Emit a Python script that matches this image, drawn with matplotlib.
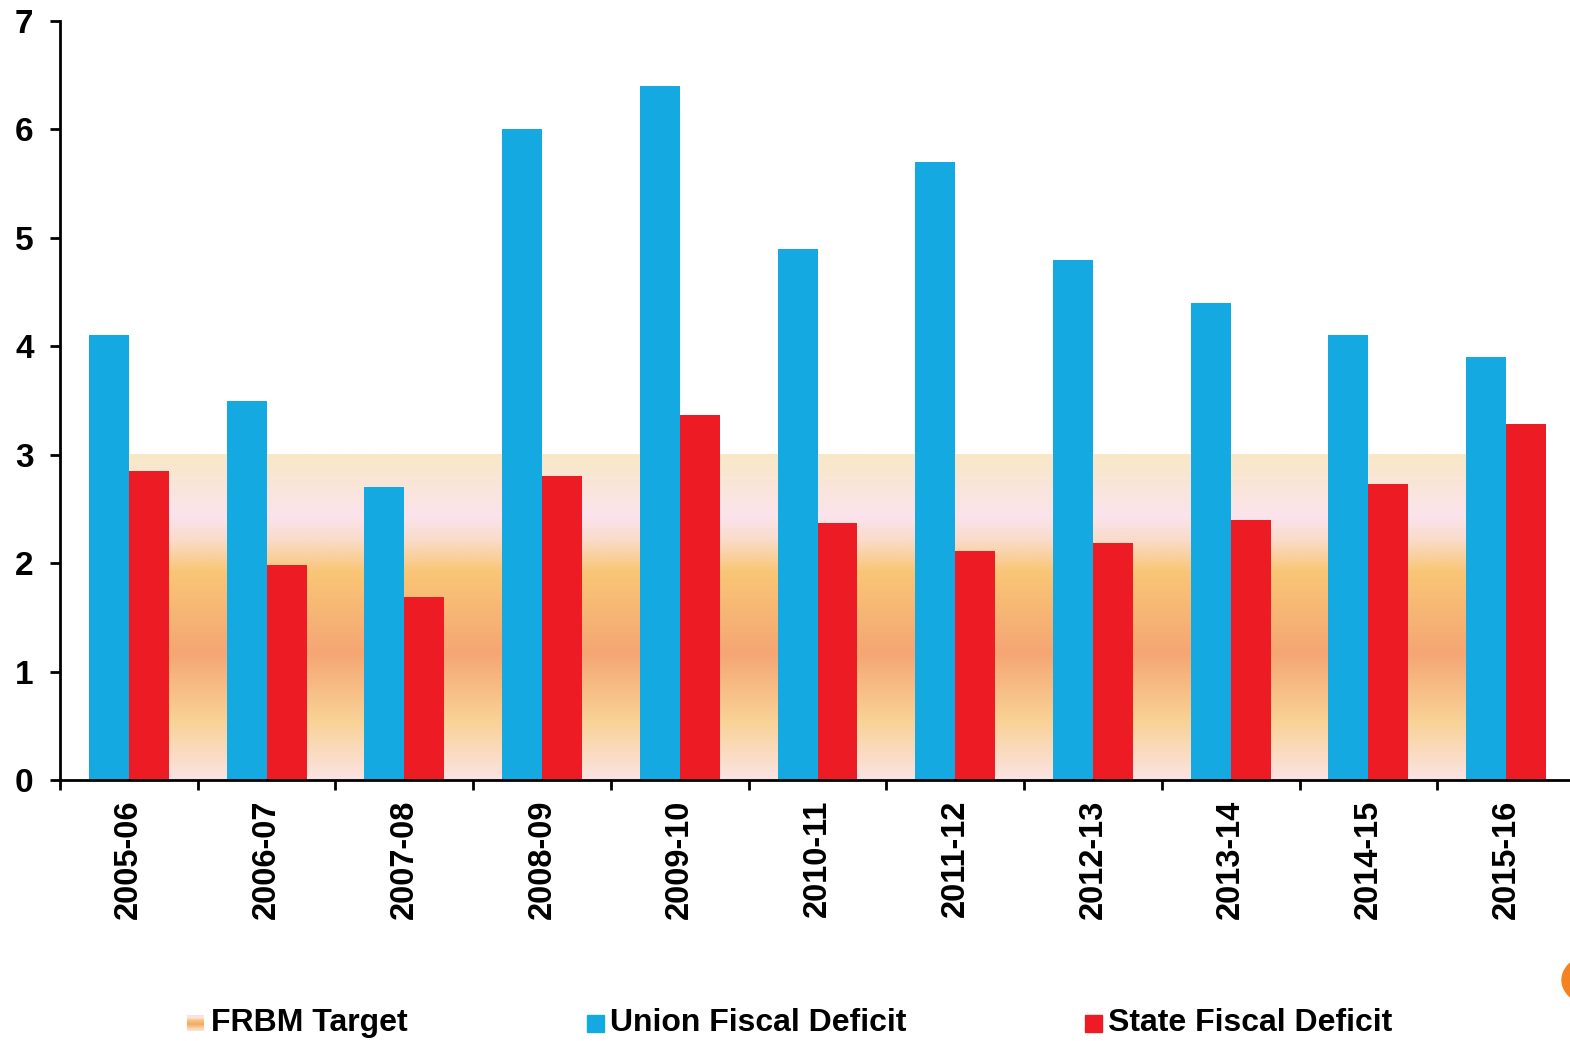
import matplotlib
matplotlib.use('Agg')

import matplotlib.pyplot as plt
import numpy as np
from matplotlib.colors import LinearSegmentedColormap
from matplotlib.patches import Rectangle, Circle

plt.rcParams['font.family'] = ['Liberation Sans', 'DejaVu Sans']
plt.rcParams['font.weight'] = 'bold'

years = ['2005-06', '2006-07', '2007-08', '2008-09', '2009-10', '2010-11',
         '2011-12', '2012-13', '2013-14', '2014-15', '2015-16']
union_deficit = [4.1, 3.5, 2.7, 6.0, 6.4, 4.9, 5.7, 4.8, 4.4, 4.1, 3.9]
state_deficit = [2.85, 1.98, 1.69, 2.80, 3.37, 2.37, 2.11, 2.19, 2.40, 2.73, 3.28]
frbm_target = 3.0

blue = '#15A9E1'
red = '#ED1C24'

# FRBM band gradient, bottom (0) to top (target)
band_stops = [(0.00, '#FBE3E3'), (0.18, '#F9D296'), (0.39, '#F5A673'),
              (0.64, '#F9C676'), (0.74, '#F9DCCB'), (0.81, '#FBE3EC'),
              (1.00, '#F8E8C6')]
band_cmap = LinearSegmentedColormap.from_list('frbm', band_stops)
grad = np.linspace(0, 1, 256).reshape(-1, 1)

fig = plt.figure(figsize=(15.70, 10.41), dpi=100)
ax = fig.add_axes([60 / 1570, 1 - 780 / 1041, 1515 / 1570, 759 / 1041])

x = np.arange(len(years))
w = 0.29

ax.imshow(grad, cmap=band_cmap, origin='lower', aspect='auto',
          extent=[0, len(years) - 1, 0, frbm_target], zorder=1)
ax.bar(x - w / 2, union_deficit, w, color=blue, zorder=2)
ax.bar(x + w / 2, state_deficit, w, color=red, zorder=2)

ax.set_xlim(-0.5, len(years) - 0.5)
ax.set_ylim(0, 7)
ax.set_yticks(range(8))
ax.set_xticks(x)
ax.set_xticklabels(years, rotation=90, fontsize=23.5, fontweight='bold')
ax.set_xticks(np.arange(-0.5, len(years), 1.0), minor=True)
ax.tick_params(axis='x', which='major', length=0, pad=14)
ax.tick_params(axis='x', which='minor', length=7, width=2, direction='out')
ax.tick_params(axis='y', length=7, width=2, pad=12, labelsize=24)
for lbl in ax.get_yticklabels():
    lbl.set_fontweight('bold')

for side in ['top', 'right']:
    ax.spines[side].set_visible(False)
for side in ['left', 'bottom']:
    ax.spines[side].set_linewidth(2)
ax.spines['bottom'].set_zorder(3)

# legend drawn by hand to match spacing
W, H = 1570, 1041
leg_y = 1023
box = 17
lax = fig.add_axes([187 / W, 1 - (leg_y + box / 2) / H, box / W, box / H])
lax.imshow(grad, cmap=band_cmap, origin='lower', aspect='auto')
lax.axis('off')
fig.text(211 / W, 1 - leg_y / H, 'FRBM Target', fontsize=23,
         fontweight='bold', va='center')
for x0, col, label in [(587, blue, 'Union Fiscal Deficit'),
                       (1085, red, 'State Fiscal Deficit')]:
    fig.add_artist(Rectangle((x0 / W, 1 - (leg_y + box / 2) / H), box / W, box / H,
                             transform=fig.transFigure, color=col))
    fig.text((x0 + 23) / W, 1 - leg_y / H, label, fontsize=23,
             fontweight='bold', va='center')

# decorative circle at lower right edge
fig.add_artist(Circle((1606 / W, 1 - 980 / H), 44 / W, transform=fig.transFigure,
                      color='#F58220', clip_on=False))

fig.savefig('out.png', dpi=100)
